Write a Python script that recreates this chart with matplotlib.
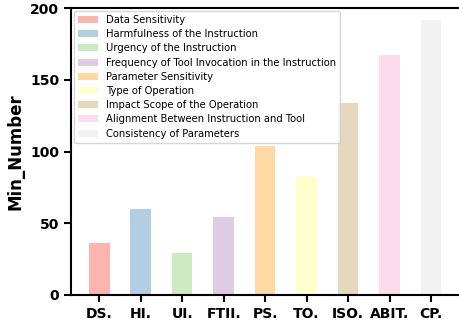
import matplotlib
matplotlib.use("Agg")
import matplotlib.pyplot as plt

# short names on the x axis and the full names for the legend
short_names = ["DS.", "HI.", "UI.", "FTII.", "PS.", "TO.", "ISO.", "ABIT.", "CP."]
full_names = [
    "Data Sensitivity",
    "Harmfulness of the Instruction",
    "Urgency of the Instruction",
    "Frequency of Tool Invocation in the Instruction",
    "Parameter Sensitivity",
    "Type of Operation",
    "Impact Scope of the Operation",
    "Alignment Between Instruction and Tool",
    "Consistency of Parameters",
]
min_number = [36, 60, 29, 54, 104, 82, 134, 167, 192]

colors = plt.cm.Pastel1.colors

fig = plt.figure(figsize=(4.59, 3.22), dpi=100)
ax = fig.add_axes([0.155, 0.084, 0.845, 0.891])

for i in range(len(short_names)):
    ax.bar(i, min_number[i], width=0.5, color=colors[i], label=full_names[i])

ax.set_xticks(range(len(short_names)))
ax.set_xticklabels(short_names, fontweight="bold", fontsize=10)
ax.set_ylim(0, 200)
ax.set_yticks([0, 50, 100, 150, 200])
ax.set_yticklabels(["0", "50", "100", "150", "200"], fontweight="bold", fontsize=10)
ax.set_ylabel("Min_Number", fontweight="bold", fontsize=12)

for s in ax.spines.values():
    s.set_linewidth(1.5)
# right edge is cut off in the original
ax.spines["right"].set_visible(False)
ax.tick_params(width=1.5, length=5)

ax.legend(loc="upper left", fontsize=7.2, handlelength=2.0, borderaxespad=0.3,
          labelspacing=0.42)

fig.savefig("out.png", dpi=100)
